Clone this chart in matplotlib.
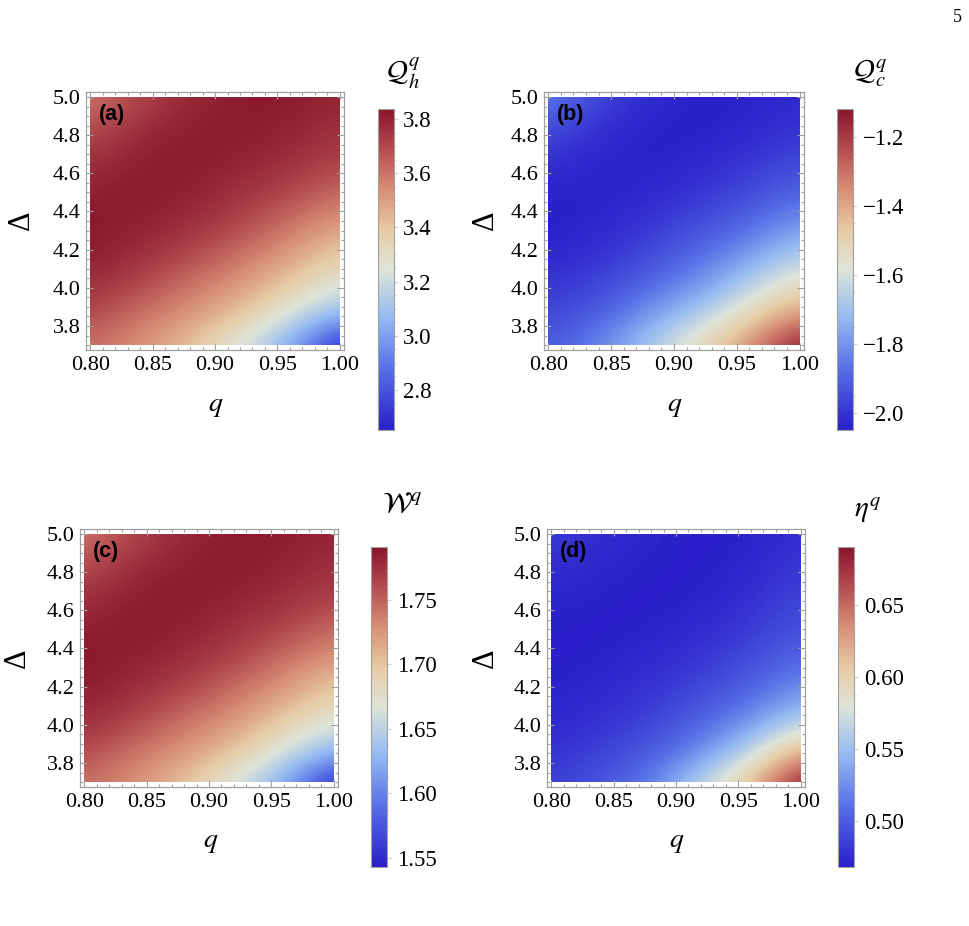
import matplotlib as mpl
mpl.use("Agg")
import matplotlib.pyplot as plt
import numpy as np
from matplotlib.colors import LinearSegmentedColormap
from matplotlib.patches import Rectangle
from matplotlib.ticker import MultipleLocator, FormatStrFormatter


qValues = [0.80, 0.84, 0.88, 0.92, 0.96, 1.00]
deltaValues = [3.70, 3.8625, 4.025, 4.1875, 4.35, 4.5125, 4.675, 4.8375, 5.00]

heatHot = [[3.61, 3.53, 3.41, 3.22, 3.03, 2.66],
           [3.71, 3.60, 3.53, 3.41, 3.23, 3.06],
           [3.77, 3.715, 3.60, 3.53, 3.39, 3.25],
           [3.82, 3.77, 3.72, 3.61, 3.52, 3.38],
           [3.83, 3.81, 3.77, 3.72, 3.61, 3.52],
           [3.80, 3.83, 3.81, 3.76, 3.72, 3.62],
           [3.75, 3.81, 3.83, 3.80, 3.77, 3.72],
           [3.68, 3.77, 3.81, 3.83, 3.80, 3.76],
           [3.58, 3.71, 3.78, 3.82, 3.825, 3.79]]

heatCold = [[-1.92, -1.83, -1.68, -1.52, -1.35, -1.12],
            [-1.96, -1.92, -1.79, -1.67, -1.52, -1.36],
            [-2.00, -1.97, -1.90, -1.81, -1.66, -1.53],
            [-2.035, -2.01, -1.96, -1.89, -1.80, -1.67],
            [-2.045, -2.035, -2.00, -1.955, -1.90, -1.80],
            [-2.035, -2.045, -2.03, -2.00, -1.96, -1.90],
            [-2.00, -2.035, -2.045, -2.03, -2.00, -1.96],
            [-1.94, -2.01, -2.04, -2.045, -2.03, -2.00],
            [-1.84, -1.96, -2.02, -2.045, -2.04, -2.025]]

work = [[1.743, 1.727, 1.702, 1.662, 1.622, 1.545],
        [1.764, 1.741, 1.727, 1.702, 1.664, 1.628],
        [1.777, 1.766, 1.741, 1.727, 1.697, 1.668],
        [1.787, 1.777, 1.767, 1.743, 1.725, 1.695],
        [1.790, 1.785, 1.777, 1.767, 1.743, 1.725],
        [1.783, 1.790, 1.785, 1.775, 1.767, 1.746],
        [1.773, 1.785, 1.790, 1.783, 1.777, 1.767],
        [1.758, 1.777, 1.785, 1.790, 1.783, 1.775],
        [1.737, 1.764, 1.779, 1.787, 1.788, 1.781]]

efficiency = [[0.485, 0.497, 0.515, 0.567, 0.612, 0.690],
              [0.478, 0.486, 0.498, 0.522, 0.565, 0.622],
              [0.473, 0.478, 0.487, 0.502, 0.525, 0.562],
              [0.470, 0.473, 0.479, 0.490, 0.502, 0.527],
              [0.469, 0.470, 0.474, 0.480, 0.492, 0.505],
              [0.470, 0.469, 0.470, 0.474, 0.482, 0.495],
              [0.472, 0.470, 0.469, 0.470, 0.476, 0.488],
              [0.477, 0.472, 0.470, 0.469, 0.472, 0.482],
              [0.485, 0.476, 0.471, 0.469, 0.470, 0.477]]

panelLabels = ["(a)", "(b)", "(c)", "(d)"]
barTitles = [r"$\mathcal{Q}_h^q$", r"$\mathcal{Q}_c^q$", r"$\mathcal{W}^q$", r"$\eta^q$"]
barRanges = [(2.652, 3.837), (-2.049, -1.119), (1.543, 1.791), (0.468, 0.690)]
barTicks = [[2.8, 3.0, 3.2, 3.4, 3.6, 3.8],
            [-2.0, -1.8, -1.6, -1.4, -1.2],
            [1.55, 1.60, 1.65, 1.70, 1.75],
            [0.50, 0.55, 0.60, 0.65]]
barFormats = ["%.1f", "%.1f", "%.2f", "%.2f"]


# Mathematica-like "ThermometerColors"
thermo = LinearSegmentedColormap.from_list("thermo", [
    (0.00, (0.165, 0.118, 0.790)),
    (0.18, (0.330, 0.420, 0.900)),
    (0.35, (0.580, 0.730, 0.950)),
    (0.50, (0.870, 0.895, 0.850)),
    (0.62, (0.905, 0.800, 0.650)),
    (0.75, (0.845, 0.560, 0.460)),
    (0.88, (0.700, 0.290, 0.310)),
    (1.00, (0.535, 0.080, 0.170)),
])

plt.rcParams["font.family"] = ["Liberation Serif", "DejaVu Serif"]
plt.rcParams["mathtext.fontset"] = "stix"

frameGray = "#a0a0a0"

fig = plt.figure(figsize=(9.70, 9.26), dpi=100)

# figure-fraction positions: [left, bottom, width, height]
axesBoxes = [[0.0887, 0.6220, 0.2660, 0.2786],
             [0.5608, 0.6220, 0.2680, 0.2786],
             [0.0825, 0.1501, 0.2660, 0.2786],
             [0.5639, 0.1501, 0.2660, 0.2786]]
barBoxes = [[0.3897, 0.5356, 0.0160, 0.3467],
            [0.8629, 0.5356, 0.0165, 0.3467],
            [0.3825, 0.0637, 0.0165, 0.3456],
            [0.8639, 0.0637, 0.0165, 0.3456]]
barTitlePos = [(0.415, 0.921), (0.897, 0.921), (0.414, 0.455), (0.895, 0.449)]
qLabelPos = [(0.222, 0.561), (0.696, 0.561), (0.217, 0.090), (0.698, 0.090)]
deltaLabelPos = [(0.022, 0.762), (0.500, 0.762), (0.018, 0.289), (0.500, 0.289)]

fields = [heatHot, heatCold, work, efficiency]
dq = qValues[1] - qValues[0]
dd = deltaValues[1] - deltaValues[0]

for i, field in enumerate(fields):
    ax = fig.add_axes(axesBoxes[i])
    vmin, vmax = barRanges[i]
    im = ax.imshow(np.array(field), origin="lower", cmap=thermo,
                   vmin=vmin, vmax=vmax, aspect="auto",
                   interpolation="bicubic", interpolation_stage="data",
                   extent=[qValues[0] - dq / 2, qValues[-1] + dq / 2,
                           deltaValues[0] - dd / 2, deltaValues[-1] + dd / 2])
    im.set_clip_path(Rectangle((qValues[0], deltaValues[0]),
                               qValues[-1] - qValues[0],
                               deltaValues[-1] - deltaValues[0],
                               transform=ax.transData))
    ax.set_xlim(0.7965, 1.0035)
    ax.set_ylim(3.674, 5.026)

    ax.xaxis.set_major_locator(MultipleLocator(0.05))
    ax.xaxis.set_minor_locator(MultipleLocator(0.01))
    ax.yaxis.set_major_locator(MultipleLocator(0.2))
    ax.yaxis.set_minor_locator(MultipleLocator(0.05))
    ax.xaxis.set_major_formatter(FormatStrFormatter("%.2f"))
    ax.yaxis.set_major_formatter(FormatStrFormatter("%.1f"))
    ax.tick_params(which="both", direction="in", top=True, right=True,
                   color=frameGray, width=0.8, labelsize=16, pad=4)
    ax.tick_params(which="major", length=5)
    ax.tick_params(which="minor", length=2.5)
    for sp in ax.spines.values():
        sp.set_color(frameGray)
        sp.set_linewidth(0.9)

    ax.text(0.05, 0.955, panelLabels[i], transform=ax.transAxes,
            ha="left", va="top", fontsize=15.5, fontweight="bold",
            family="Liberation Sans")

    cax = fig.add_axes(barBoxes[i])
    cb = fig.colorbar(im, cax=cax, ticks=barTicks[i], format=barFormats[i])
    cb.outline.set_edgecolor(frameGray)
    cb.outline.set_linewidth(0.8)
    cax.tick_params(direction="out", length=3, color="#d0d0d0",
                    labelsize=16.5, pad=4)
    cax.yaxis.set_minor_locator(MultipleLocator((barTicks[i][1] - barTicks[i][0]) / 4))
    cax.tick_params(which="minor", length=2, color="#e0e0e0")
    if i == 1:
        cax.set_yticklabels(["\u22122.0", "\u22121.8", "\u22121.6", "\u22121.4", "\u22121.2"])

    fig.text(barTitlePos[i][0], barTitlePos[i][1], barTitles[i],
             ha="center", va="center", fontsize=21)
    fig.text(qLabelPos[i][0], qLabelPos[i][1], r"$q$",
             ha="center", va="center", fontsize=20)
    fig.text(deltaLabelPos[i][0], deltaLabelPos[i][1], "\u0394",
             ha="center", va="center", fontsize=22, rotation=90)
#end-for

fig.text(0.987, 0.981, "5", ha="center", va="center", fontsize=13)

plt.savefig("out.png", dpi=100)
